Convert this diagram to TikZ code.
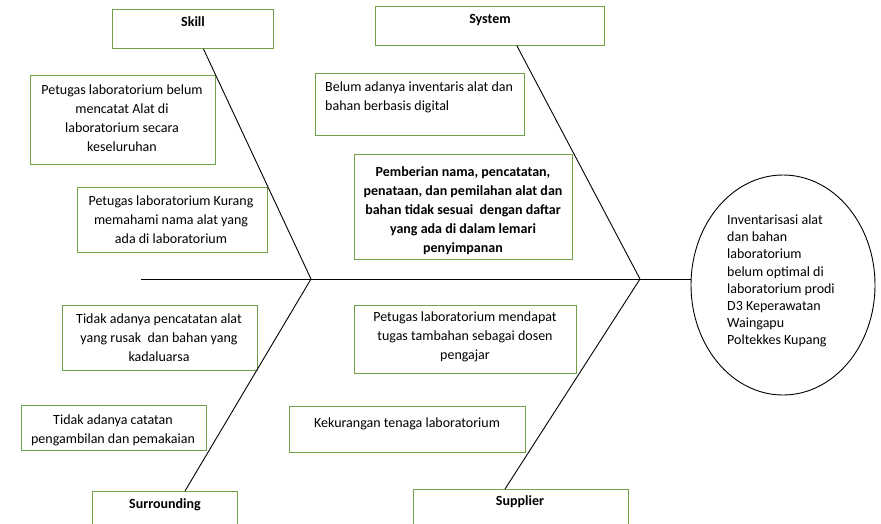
\documentclass[tikz,border=0pt]{standalone}
\usepackage{fontspec}
\setmainfont{Carlito}
\usetikzlibrary{shapes.geometric}
\definecolor{boxgreen}{RGB}{112,162,72}
\begin{document}
\begin{tikzpicture}[x=1pt,y=-1pt,
  box/.style={draw=boxgreen, line width=0.9pt, inner sep=0pt, anchor=north west},
  txt/.style={font=\fontsize{14}{19}\selectfont, align=center, inner sep=0pt},
  ttl/.style={font=\fontsize{14}{19}\selectfont\bfseries, inner sep=0pt},
  bone/.style={draw=black, line width=0.9pt}]
\useasboundingbox (0,0) rectangle (881,523);
% category boxes
\node[box, minimum width=161pt, minimum height=39pt] (skill) at (112,9) {};
\node[ttl] (skillt) at (193,22) {Skill};
\node[box, minimum width=229pt, minimum height=39pt] (system) at (375,6) {};
\node[ttl] (systemt) at (490,20) {System};
\node[box, minimum width=145pt, minimum height=40pt] (surround) at (92,491) {};
\node[ttl] (surroundt) at (165,505) {Surrounding};
\node[box, minimum width=215pt, minimum height=40pt] (supplier) at (413,489) {};
\node[ttl] (suppliert) at (520,502) {Supplier};
% cause boxes
\node[box, minimum width=185pt, minimum height=89pt] (b1) at (30,75) {};
\node[txt] (t1) at (122,118) {Petugas laboratorium belum\\mencatat Alat di\\laboratorium secara\\keseluruhan};
\node[box, minimum width=190pt, minimum height=65pt] (b2) at (77,187) {};
\node[txt] (t2) at (171,220) {Petugas laboratorium Kurang\\memahami nama alat yang\\ada di laboratorium};
\node[box, minimum width=209pt, minimum height=62pt] (b3) at (315,73) {};
\node[txt, align=left, anchor=west] (t3) at (325,97.5) {Belum adanya inventaris alat dan\\bahan berbasis digital};
\node[box, minimum width=218pt, minimum height=105pt] (b4) at (354,154) {};
\node[txt, font=\fontsize{14}{19}\selectfont\bfseries] (t4) at (463,211) {Pemberian nama, pencatatan,\\penataan, dan pemilahan alat dan\\bahan tidak sesuai\ \ dengan daftar\\yang ada di dalam lemari\\penyimpanan};
\node[box, minimum width=195pt, minimum height=65pt] (b5) at (62,305) {};
\node[txt] (t5) at (159,338) {Tidak adanya pencatatan alat\\yang rusak\ \ dan bahan yang\\kadaluarsa};
\node[box, minimum width=185pt, minimum height=45pt] (b6) at (21,405) {};
\node[txt] (t6) at (113,430) {Tidak adanya catatan\\pengambilan dan pemakaian};
\node[box, minimum width=222pt, minimum height=68pt] (b7) at (354,305) {};
\node[txt] (t7) at (465,337) {Petugas laboratorium mendapat\\tugas tambahan sebagai dosen\\pengajar};
\node[box, minimum width=236pt, minimum height=46pt] (b8) at (289,406) {};
\node[txt] (t8) at (407,424) {Kekurangan tenaga laboratorium};
% effect
\node[draw=black, line width=0.9pt, ellipse, minimum width=184pt, minimum height=220pt, inner sep=0pt] (goal) at (783,285) {};
\node[txt, align=left, anchor=west, font=\fontsize{14}{17.2}\selectfont] (goalt) at (727,281) {Inventarisasi alat\\dan bahan\\laboratorium\\belum optimal di\\laboratorium prodi\\D3 Keperawatan\\Waingapu\\Poltekkes Kupang};
% spine and bones
\coordinate (s0) at (141,279);
\coordinate (j1) at (311,279);
\coordinate (j2) at (640,279);
\draw[bone] (s0) -- (s0 -| goal.west);
\draw[bone] ([xshift=10.5pt]skill.south) -- (j1);
\draw[bone] (j1) -- ([xshift=93pt]surround.north west);
\draw[bone] ([xshift=27pt]system.south) -- (j2);
\draw[bone] (j2) -- ([xshift=92pt]supplier.north west);
\end{tikzpicture}
\end{document}
